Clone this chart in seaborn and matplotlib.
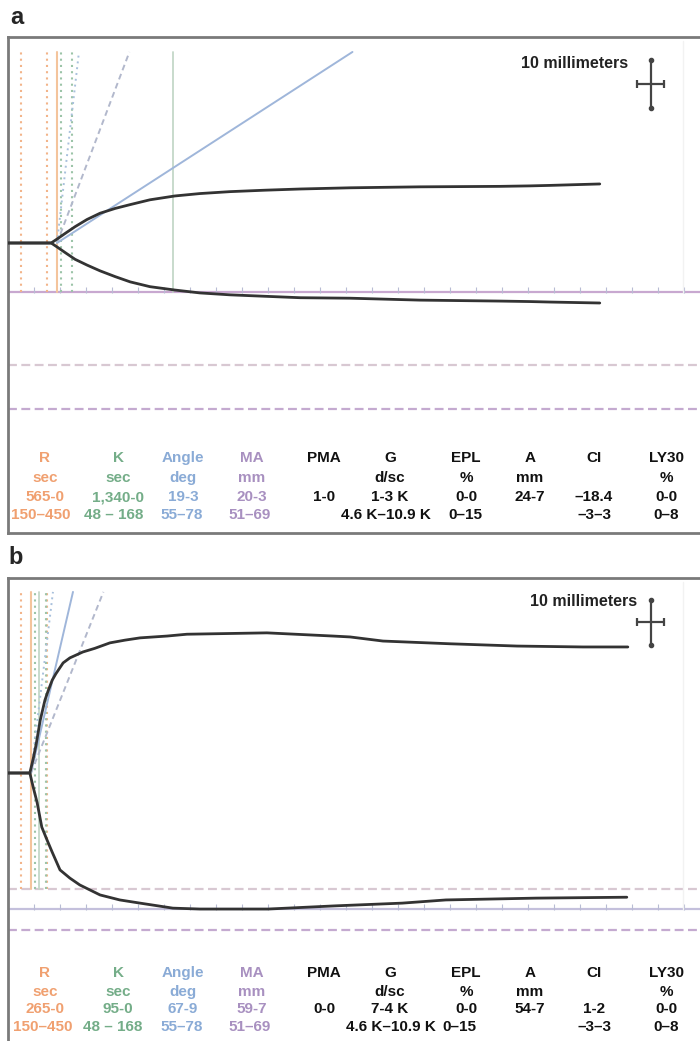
import numpy as np
import pandas as pd
import seaborn as sns
import matplotlib.pyplot as plt

sns.set_style('white')
plt.rcParams['font.family'] = ['Liberation Sans', 'DejaVu Sans']

# TEG tracing a (time in minutes, amplitude in mm, upper / lower branch)
t_a = [0, 8.3, 9.4, 11.0, 12.9, 15.2, 17.7, 20.6, 23.5, 27.3, 32.1, 36.9, 42.7, 49.4, 56.2,
       65.8, 79.2, 94.6, 100.4, 104.2, 113.8]
up_a = [0, 0, 0.8, 2.0, 3.4, 4.9, 6.2, 7.2, 8.0, 9.0, 9.8, 10.3, 10.7, 11.0, 11.25,
        11.5, 11.7, 11.8, 11.9, 12.0, 12.3]
lo_a = [0, 0, -0.8, -2.0, -3.4, -4.6, -5.8, -7.0, -8.1, -9.1, -9.8, -10.4, -10.8, -11.1, -11.4,
        -11.5, -11.9, -12.1, -12.2, -12.3, -12.5]

# TEG tracing b
t_up_b = [0, 4.2, 4.8, 5.4, 6.2, 7.1, 7.7, 8.5, 9.2, 10.6, 11.9, 14.4, 16.7, 19.6, 22.5, 25.4,
          30.6, 34.4, 49.8, 62.5, 65.8, 72.1, 85.0, 97.9, 110.6, 119.2]
up_b = [0, 0, 2.9, 6.2, 11.6, 16.0, 18.0, 20.4, 21.8, 24.2, 25.3, 26.6, 27.4, 28.6, 29.2, 29.7,
        30.1, 30.5, 30.8, 30.1, 29.9, 29.0, 28.4, 27.9, 27.7, 27.7]
t_lo_b = [0, 4.2, 4.8, 5.6, 6.5, 7.5, 8.5, 10.0, 11.9, 13.8, 17.7, 21.5, 25.4, 31.7, 36.9,
          50.0, 62.9, 75.8, 84.2, 101.5, 119.0]
lo_b = [0, 0, -2.9, -6.5, -11.9, -14.7, -17.4, -21.3, -23.1, -24.6, -26.8, -27.9, -28.6, -29.7, -29.9,
        -29.9, -29.2, -28.6, -27.9, -27.5, -27.3]

# measured parameters
r_sec = [565, 265]
k_sec = [1340, 95]
angle_deg = [19.3, 67.9]
ma_mm = [20.3, 59.7]

# normal ranges
r_norm = [150, 450]
k_norm = [48, 168]
angle_norm = [55, 78]
ma_norm = [51, 69]

# table text
headers = ['R', 'K', 'Angle', 'MA', 'PMA', 'G', 'EPL', 'A', 'CI', 'LY30']
units = ['sec', 'sec', 'deg', 'mm', '', 'd/sc', '%', 'mm', '', '%']
values_a = ['565-0', '1,340-0', '19-3', '20-3', '1-0', '1-3 K', '0-0', '24-7', '–18.4', '0-0']
values_b = ['265-0', '95-0', '67-9', '59-7', '0-0', '7-4 K', '0-0', '54-7', '1-2', '0-0']
ranges = ['150–450', '48 – 168', '55–78', '51–69', '', '4.6 K–10.9 K', '0–15', '', '–3–3', '0–8']

col_colors = ['#f0a070', '#74ad88', '#8aabd6', '#a890c0'] + ['#111111'] * 6
col_x = [45, 118, 183, 252, 324, 390, 466, 530, 594, 666]
range_x_a = [41, 114, 182, 250, 0, 386, 465, 0, 594, 666]
range_x_b = [43, 113, 182, 250, 0, 391, 459, 0, 594, 666]

W, H = 700, 1041
PX_MIN = 5.2
fig = plt.figure(figsize=(7.0, 10.41), dpi=100)


def add_box(top_px, bot_px, base_px, px_mm):
    ax = fig.add_axes([8 / W, 1 - bot_px / H, 710 / W, (bot_px - top_px) / H])
    ax.set_xlim(0, 710 / PX_MIN)
    ax.set_ylim((base_px - bot_px) / px_mm, (base_px - top_px) / px_mm)
    ax.set_xticks([])
    ax.set_yticks([])
    for s in ax.spines.values():
        s.set_color('#7a7a7a')
        s.set_linewidth(2)
    return ax


def draw_panel(ax, i, tu, up, tl, lo, vbottom, top=39.8):
    r = r_sec[i] / 60
    rk = (r_sec[i] + k_sec[i]) / 60
    # horizontal MA references
    ax.axhline(-ma_mm[i] / 2, color='#c8a8d0' if i == 0 else '#c4c0dc', lw=1.6, zorder=1)
    ax.axhline(-ma_norm[0] / 2, color='#d8c8d2', lw=1.6, dashes=(4, 2), zorder=1)
    ax.axhline(-ma_norm[1] / 2, color='#c4aad0', lw=1.6, dashes=(4, 2), zorder=1)
    ticks = np.arange(5, 136, 5)
    ax.plot(ticks, np.full(len(ticks), -ma_mm[i] / 2 + 0.35), ls='none', marker='|',
            ms=4, mew=0.8, color='#b8bcd4', zorder=1)
    # R / K lines
    for v in r_norm:
        ax.plot([v / 60, v / 60], [vbottom, top], color='#f2b48a', lw=1.5, ls=(0, (1, 2)))
    ax.plot([r, r], [vbottom, top], color='#f4c49c', lw=1.5)
    for v in k_norm:
        x = (r_sec[i] + v) / 60
        ax.plot([x, x], [vbottom, top], color='#9cc4a8', lw=1.5, ls=(0, (1, 2)))
    ax.plot([rk, rk], [vbottom, top], color='#c4d8c8', lw=1.3)
    # angle lines, slope = 2*tan(angle) mm/min
    for a, st, c in [(angle_deg[i], '-', '#9fb6da'), (angle_norm[0], (0, (3, 2)), '#b2b8cc'),
                     (angle_norm[1], (0, (1, 2)), '#a8c0dc')]:
        dt = top / (2 * np.tan(np.radians(a)))
        ax.plot([r, r + dt], [0, top], color=c, lw=1.4, ls=st)
    # tracing
    df_u = pd.DataFrame({'t': tu, 'amp': up})
    df_l = pd.DataFrame({'t': tl, 'amp': lo})
    for d in (df_u, df_l):
        sns.lineplot(data=d, x='t', y='amp', ax=ax, color='#333333', lw=2.0,
                     estimator=None, sort=False, zorder=5)
    ax.set_xlabel('')
    ax.set_ylabel('')
    # scale cross: 10 mm vertical, 10 mm at 2 mm/min horizontal
    cx, cy = 123.6, 33.1
    ax.plot([cx, cx], [cy - 5, cy + 5], color='#444444', lw=1.6)
    ax.plot([cx - 2.6, cx + 2.6], [cy, cy], color='#444444', lw=1.6)
    ax.plot([cx, cx], [cy - 5, cy + 5], ls='none', marker='o', ms=3, color='#444444')
    ax.plot([cx - 2.6, cx + 2.6], [cy, cy], ls='none', marker='|', ms=6, mew=1.6, color='#444444')
    ax.plot([129.8, 129.8], [-ma_mm[i] / 2, 42], color='#f2f2f2', lw=1)


ax_a = add_box(37, 533, 243, 4.8)
draw_panel(ax_a, 0, t_a, up_a, t_a, lo_a, -ma_mm[0] / 2)
ax_b = add_box(578, 1052, 773, 4.55)
draw_panel(ax_b, 1, t_up_b, up_b, t_lo_b, lo_b, -ma_norm[0] / 2)

fig.text(628 / W, 1 - 63 / H, '10 millimeters', ha='right', va='center',
         fontsize=11.5, fontweight='bold', color='#222222')
fig.text(637 / W, 1 - 601 / H, '10 millimeters', ha='right', va='center',
         fontsize=11.5, fontweight='bold', color='#222222')
fig.text(10 / W, 1 - 18 / H, 'a', ha='left', va='center', fontsize=17, fontweight='bold')
fig.text(8 / W, 1 - 557 / H, 'b', ha='left', va='center', fontsize=17, fontweight='bold')


def table(rows_y, values, range_x):
    for j in range(len(headers)):
        kw = dict(ha='center', va='center', fontsize=11, fontweight='bold', color=col_colors[j])
        fig.text(col_x[j] / W, 1 - rows_y[0] / H, headers[j], **kw)
        if units[j]:
            fig.text(col_x[j] / W, 1 - rows_y[1] / H, units[j], **kw)
        fig.text(col_x[j] / W, 1 - rows_y[2] / H, values[j], **kw)
        if ranges[j]:
            fig.text(range_x[j] / W, 1 - rows_y[3] / H, ranges[j], **kw)


table([458, 478, 497, 515], values_a, range_x_a)
table([973, 992, 1009, 1027], values_b, range_x_b)

fig.savefig('out.png', dpi=100)
